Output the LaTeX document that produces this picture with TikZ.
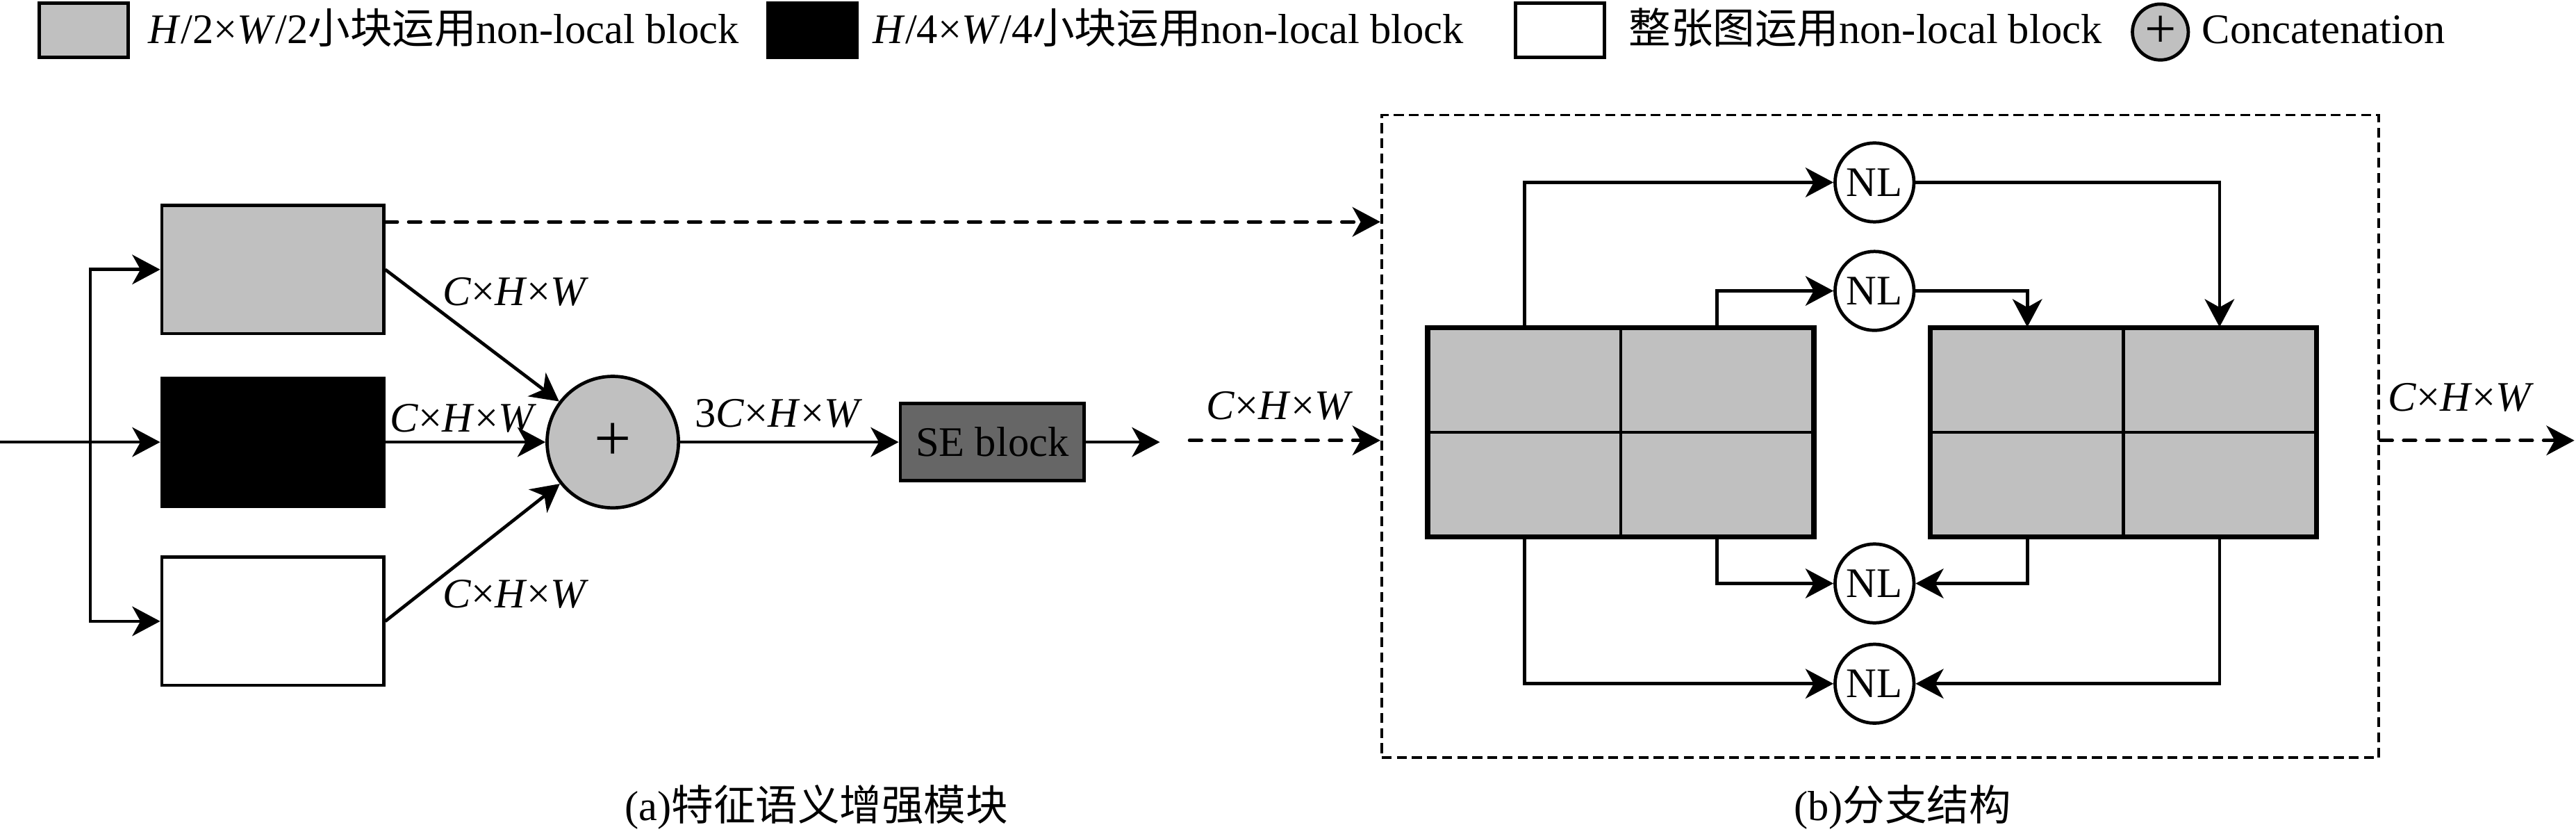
\documentclass[tikz,border=0pt]{standalone}
\usepackage{fontspec}
\setmainfont{Liberation Serif}
\newfontfamily\cjk{Noto Sans CJK SC}
\usetikzlibrary{arrows.meta,calc}
\definecolor{lgray}{HTML}{C0C0C0}
\definecolor{dgray}{HTML}{666666}
\newcommand\chw{\textit{C}×\textit{H}×\textit{W}}
\begin{document}
\begin{tikzpicture}[x=0.5pt,y=-0.5pt,
  every node/.style={font=\fontsize{12.8}{15}\selectfont},
  arr/.style={line width=1pt,-{Stealth[length=8.5pt,width=9pt,inset=2.5pt]}},
  dasharr/.style={arr,dash pattern=on 3.7pt off 3.4pt,line cap=round},
  box/.style={draw,line width=1pt,minimum width=67.5pt,minimum height=39pt,inner sep=0},
  legbox/.style={draw,line width=1pt,minimum width=27pt,minimum height=16.5pt,inner sep=0},
  cell/.style={draw,fill=lgray,line width=1pt,minimum width=58.5pt,minimum height=31.5pt,inner sep=0},
  nl/.style={circle,draw,line width=1pt,minimum size=24pt,inner sep=0,fill=white},
  lbl/.style={inner sep=0,anchor=base}]
\useasboundingbox[fill=white] (0,0) rectangle (1568,507.4);
% legend
\node[legbox,fill=lgray] (lg1) at (51,18.5) {};
\node[lbl,anchor=base west] (lt1) at (90,26.5) {\textit{H}/2×\textit{W}/2{\cjk 小块运用}non-local block};
\node[legbox,fill=black] (lg2) at (494.5,18.5) {};
\node[lbl,anchor=base west] (lt2) at (531,26.5) {\textit{H}/4×\textit{W}/4{\cjk 小块运用}non-local block};
\node[legbox,fill=white] (lg3) at (949.5,18.5) {};
\node[lbl,anchor=base west] (lt3) at (991,26.5) {{\cjk 整张图运用}non-local block};
\node[circle,draw,fill=lgray,line width=1pt,minimum size=17pt,inner sep=0,font=\fontsize{17}{17}\selectfont] (lg4) at (1315,19.5) {+};
\node[lbl,anchor=base west] (lt4) at (1340,26.5) {Concatenation};
% (a)
\coordinate (in) at (0,269);
\coordinate (sp) at (55,269);
\node[box,fill=lgray] (gb) at (166,164) {};
\node[box,fill=black] (bb) at (166,269) {};
\node[box,fill=white] (wb) at (166,378) {};
\node[circle,draw,fill=lgray,line width=1pt,minimum size=40pt,inner sep=0,font=\fontsize{20}{20}\selectfont] (cat) at (373,269) {+};
\node[draw,fill=dgray,line width=1pt,minimum width=56pt,minimum height=23.5pt,inner sep=0] (se) at (604,269) {SE block};
\coordinate (seo) at (706,269);
\draw[arr] (in) -- (bb);
\draw[arr] (sp) |- (gb);
\draw[arr] (sp) |- (wb);
\draw[arr] (gb.east) -- (cat);
\draw[arr] (bb) -- (cat);
\draw[arr] (wb.east) -- (cat);
\draw[arr] (cat) -- (se);
\draw[arr] (se) -- (seo);
\node[lbl] (l1) at (314,186) {\chw};
\node[lbl] (l2) at (282,263) {\chw};
\node[lbl] (l3) at (314,370) {\chw};
\node[lbl] (l4) at (474,260) {3\chw};
% (b)
\node[draw,line width=0.8pt,dash pattern=on 3pt off 1.6pt,minimum width=303.5pt,minimum height=195.5pt,inner sep=0] (B) at (1144.5,265.5) {};
\coordinate (ti) at (724,268);
\coordinate (ty) at (0,135);
\coordinate (to) at (1567,268);
\draw[dasharr] (gb.east |- ty) -- (B.west |- ty);
\draw[dasharr] (ti) -- (B.west |- ti);
\draw[dasharr] (B.east |- to) -- (to);
\node[lbl] (l5) at (779,255) {\chw};
\node[lbl] (l6) at (1498,250) {\chw};
\node[cell] (L11) at (928,231.5) {};
\node[cell] (L12) at (1045,231.5) {};
\node[cell] (L21) at (928,294.5) {};
\node[cell] (L22) at (1045,294.5) {};
\node[cell] (R11) at (1234,231.5) {};
\node[cell] (R12) at (1351,231.5) {};
\node[cell] (R21) at (1234,294.5) {};
\node[cell] (R22) at (1351,294.5) {};
\draw[line width=1.2pt] (L11.north west) rectangle (L22.south east);
\draw[line width=1.2pt] (R11.north west) rectangle (R22.south east);
\node[nl] (n1) at (1141,111) {NL};
\node[nl] (n2) at (1141,177) {NL};
\node[nl] (n3) at (1141,355) {NL};
\node[nl] (n4) at (1141,416) {NL};
\draw[arr] (L11.north) |- (n1);
\draw[arr] (n1) -| (R12.north);
\draw[arr] (L12.north) |- (n2);
\draw[arr] (n2) -| (R11.north);
\draw[arr] (L22.south) |- (n3);
\draw[arr] (R21.south) |- (n3);
\draw[arr] (L21.south) |- (n4);
\draw[arr] (R22.south) |- (n4);
% captions
\node[lbl] (ca) at (497,499) {(a){\cjk 特征语义增强模块}};
\node[lbl] (cb) at (1158,499) {(b){\cjk 分支结构}};
\end{tikzpicture}
\end{document}
